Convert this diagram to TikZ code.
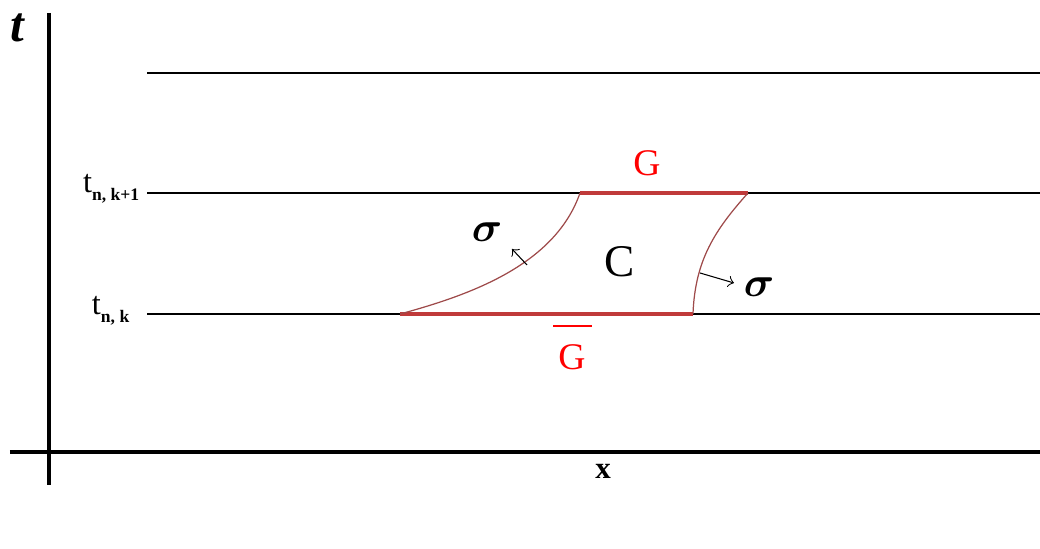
\documentclass[tikz,border=0pt]{standalone}
\usepackage{amsmath}
\usepackage{fontspec}
\setmainfont{Liberation Serif}
\definecolor{Ink}{HTML}{000000}
\definecolor{Rim}{HTML}{C03A3A}
\definecolor{Side}{HTML}{9E4A4A}
\definecolor{Mark}{HTML}{FF0000}

\begin{document}
\begin{tikzpicture}[x=0.1mm,y=-0.1mm,every node/.style={text=Ink,inner sep=0pt},axis/.style={draw=Ink,line width=1.1pt},level/.style={draw=Ink,line width=0.6pt},rim/.style={draw=Rim,line width=1pt},side/.style={draw=Side,line width=0.35pt},normal/.style={draw=Ink,line width=0.3pt,->},tick/.style={font=\fontsize{9.2}{10}\selectfont,anchor=base east}]
\useasboundingbox (0,0) rectangle (1040,549);
% axes
\coordinate (ytop) at (49,13); \coordinate (ybot) at (49,485);
\coordinate (xl) at (10,452); \coordinate (xr) at (1040,452);
\draw[axis] (ytop)--(ybot);
\draw[axis] (xl)--(xr);
\node[font=\fontsize{14}{14}\selectfont\bfseries\itshape] (tlab) at (17,28) {t};
\node[font=\fontsize{8.8}{9}\selectfont\bfseries] (xlab) at (603,471) {x};
% time levels
\foreach \y/\n in {73/top,193/up,314/low}{\coordinate (\n L) at (147,\y); \coordinate (\n R) at (1040,\y); \draw[level] (\n L)--(\n R);}
\node[tick] (tup) at (140,193) {t\raisebox{-2pt}{\fontsize{5}{5}\selectfont\bfseries n, k+1}};
\node[tick] (tlow) at (130,315) {t\raisebox{-2pt}{\fontsize{5}{5}\selectfont\bfseries n, k}};
% cell C
\coordinate (A) at (400,314); \coordinate (B) at (693,314);
\coordinate (D) at (580,193); \coordinate (E) at (748,193);
\draw[rim] (A)--(B);
\draw[rim] (D)--(E);
\draw[side] (A) .. controls (470,295) and (555,265) .. (D);
\draw[side] (E) .. controls (715,230) and (695,260) .. (B);
\coordinate (n1) at (527,265); \coordinate (n1h) at (512,249);
\coordinate (n2) at (700,273); \coordinate (n2h) at (734,283);
\draw[normal] (n1)--(n1h);
\draw[normal] (n2)--(n2h);
\node[font=\fontsize{13}{13}\selectfont] (sig1) at (487,232) {$\boldsymbol{\sigma}$};
\node[font=\fontsize{13}{13}\selectfont] (sig2) at (759,287) {$\boldsymbol{\sigma}$};
\node[font=\fontsize{12.9}{13}\selectfont] (C) at (620,262) {C};
\node[font=\fontsize{10.7}{11}\selectfont,text=Mark] (G) at (647,163) {G};
\node[font=\fontsize{10.7}{11}\selectfont,text=Mark] (Gb) at (572,357) {G};
\coordinate (barL) at (553,326); \coordinate (barR) at (592,326);
\draw[draw=Mark,line width=0.6pt] (barL)--(barR);
\end{tikzpicture}
\end{document}
